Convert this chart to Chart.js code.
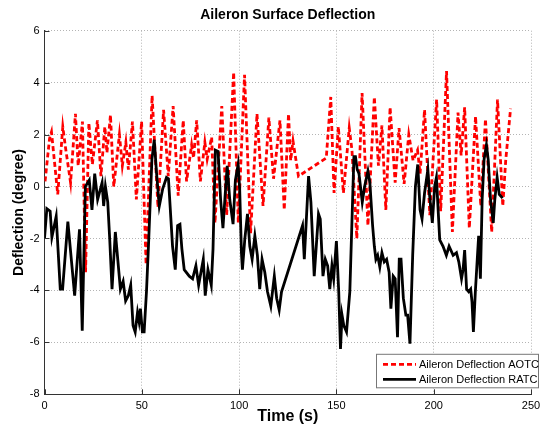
<!DOCTYPE html>
<html>
<head>
<meta charset="utf-8">
<script src="https://cdn.jsdelivr.net/npm/chart.js@4"></script>
<style>
  body { margin: 0; background: #fff; }
</style>
</head>
<body>
<canvas id="deflectionChart" width="540" height="431"></canvas>
<script>
// values (time in s, deflection in degree)
const aotcTime = [
    0.3, 2.6, 3.6, 6.8, 9.4, 10.7, 13.4, 15.9, 17.3, 19.5,
    21.1, 22.8, 24.6, 27.2, 29.0, 31.0, 32.1, 33.9, 35.6, 38.5,
    40.0, 41.8, 43.1, 45.2, 47.2, 49.9, 52.2, 55.3, 58.3, 61.2,
    63.6, 66.1, 68.7, 71.3, 73.0, 75.6, 76.6, 78.2, 80.1, 82.4,
    83.6, 85.9, 87.6, 91.1, 93.6, 97.2, 99.6, 102.8, 105.9, 109.2,
    112.3, 115.3, 117.7, 121.0, 123.2, 125.4, 126.5, 127.7, 130.5, 144.8,
    147.1, 148.8, 151.0, 153.6, 156.6, 158.0, 160.5, 163.2, 166.2, 169.5,
    171.6, 173.4, 175.4, 177.6, 180.2, 182.2, 184.8, 187.2, 189.4, 191.7,
    193.0, 195.3, 198.0, 201.5, 203.6, 206.6, 209.6, 212.5, 214.1, 215.9,
    218.3, 221.5, 224.2, 226.6, 229.8, 232.8, 235.5, 237.0, 239.5
];
const aotcDeflection = [
    0.2, 1.85, 2.1, -0.3, 2.3, 1.55, 0.15, 2.8, 0.8, 2.5,
    -3.3, 2.45, 0.85, 2.55, 0.4, 2.3, 1.3, 2.75, 0.0, 2.0,
    0.8, 1.7, 0.65, 2.5, -0.5, 2.5, -3.0, 3.5, -0.8, 2.95,
    0.4, 3.1, -0.35, 2.55, 0.2, 1.6, 1.1, 2.55, 0.2, 1.7,
    1.05, 1.9, -1.4, 3.1, -1.1, 4.4, -1.4, 4.3, -1.8, 2.8,
    -0.75, 2.65, 0.3, 2.55, -0.9, 2.8, 1.0, 1.75, 0.4, 1.1,
    3.45, -0.25, 2.3, -0.25, 2.25, 1.4, -2.0, 3.6, -1.5, 3.45,
    0.8, 2.35, -0.9, 3.05, 0.15, 2.25, 0.1, 2.0, 1.0, 1.4,
    0.5, 2.95, -1.1, 3.35, -0.95, 4.45, -1.75, 2.85, 1.2, 3.05,
    -1.6, 2.7, -0.75, 2.6, -1.75, 3.35, -0.75, 1.0, 3.0
];
const ratcTime = [
    0.0, 1.2, 2.9, 3.8, 6.0, 8.1, 9.3, 12.0, 15.5, 18.0,
    19.4, 21.0, 23.0, 24.4, 25.8, 27.3, 29.6, 30.4, 31.3, 32.5,
    33.5, 34.7, 36.4, 39.0, 40.4, 41.7, 43.1, 44.3, 45.5, 46.6,
    47.8, 48.6, 49.3, 50.3, 51.2, 52.4, 53.5, 55.2, 56.4, 57.6,
    59.0, 60.7, 62.7, 63.7, 65.8, 67.2, 68.4, 69.6, 70.6, 71.8,
    74.4, 76.1, 77.8, 79.2, 80.4, 81.6, 82.6, 84.0, 85.7, 86.6,
    87.8, 89.2, 90.5, 91.7, 92.9, 93.9, 95.2, 96.9, 98.1, 99.5,
    100.3, 101.2, 101.7, 102.9, 104.3, 105.5, 106.7, 108.1, 109.4, 110.6,
    111.8, 113.2, 114.6, 116.3, 118.1, 119.3, 120.6, 121.8, 132.6, 133.5,
    135.7, 136.9, 138.6, 140.8, 141.7, 143.1, 144.3, 145.5, 146.6, 147.7,
    148.6, 150.0, 151.2, 152.1, 152.9, 153.8, 155.2, 156.9, 159.0, 159.8,
    160.7, 161.6, 163.3, 164.5, 166.2, 167.2, 168.6, 169.5, 170.3, 171.2,
    172.3, 173.4, 174.6, 175.8, 177.1, 178.0, 179.2, 180.2, 181.4, 182.3,
    183.2, 184.4, 185.7, 186.6, 187.8, 189.2, 190.6, 191.8, 193.0, 194.0,
    195.3, 197.0, 197.9, 199.3, 200.5, 201.4, 203.1, 204.8, 206.5, 207.9,
    210.0, 211.7, 212.9, 214.3, 215.1, 215.9, 216.9, 218.0, 219.0, 219.7,
    220.4, 221.4, 222.5, 223.1, 224.0, 224.9, 225.9, 227.1, 228.0, 229.2,
    230.6, 231.4, 232.6, 233.7, 235.4
];
const ratcDeflection = [
    -2.0, -0.85, -0.95, -1.95, -1.15, -3.95, -3.95, -1.35, -4.2, -1.65,
    -5.55, 0.0, 0.25, -0.9, 0.5, -0.5, 0.15, -0.75, 0.0, -0.6,
    -2.0, -3.95, -1.75, -3.95, -3.65, -4.4, -4.2, -3.8, -5.35, -5.6,
    -4.85, -5.2, -4.7, -5.6, -5.6, -4.05, -2.15, 1.05, 1.8, 0.5,
    -0.75, -0.1, 0.35, 0.3, -2.3, -3.2, -1.5, -1.45, -2.4, -3.2,
    -3.45, -3.55, -3.05, -3.8, -3.3, -2.8, -4.2, -3.2, -3.8, -2.4,
    1.4, 1.35, -0.5, -1.6, -0.25, 0.8, -0.5, -1.45, 0.25, 0.85,
    -0.1, -2.55, -3.2, -2.05, -1.05, -2.3, -2.8, -1.9, -2.65, -3.95,
    -2.8, -3.3, -4.05, -4.6, -3.45, -4.3, -4.75, -4.05, -1.5, -2.8,
    0.4, -0.6, -3.45, -1.05, -1.25, -3.45, -2.8, -3.05, -3.95, -3.05,
    -3.55, -2.1, -4.05, -6.25, -4.95, -5.35, -5.6, -4.05, 1.15, 1.15,
    0.65, 0.5, -0.6, 0.0, 0.6, 0.15, -1.5, -2.3, -2.8, -2.65,
    -3.1, -2.55, -2.9, -2.8, -3.3, -4.7, -3.45, -3.55, -5.8, -2.8,
    -2.8, -4.3, -4.95, -4.95, -6.05, -2.65, 0.0, 0.85, -0.9, -1.25,
    -0.25, 0.65, -0.35, -1.4, 0.0, 0.35, -2.05, -2.3, -2.65, -2.3,
    -2.65, -2.55, -2.9, -3.55, -3.2, -2.45, -3.95, -4.05, -3.95, -4.45,
    -5.6, -4.05, -2.65, -1.9, -3.55, -0.5, 1.05, 1.6, 1.05, -0.5,
    -1.4, -0.5, 0.35, -0.3, -0.45
];
const xTicks = [0, 50, 100, 150, 200, 250];
const yTicks = [-8, -6, -4, -2, 0, 2, 4, 6];
const seriesNames = ['Aileron Deflection AOTC', 'Aileron Deflection RATC'];

const FONT = '"Liberation Sans", Arial, sans-serif';

function toPoints(times, values) {
    return times.map((t, i) => ({ x: t, y: values[i] }));
}

// MATLAB-like title, inward ticks and legend box
const matlabDecor = {
    id: 'matlabDecor',
    afterDraw(chart) {
        const ctx = chart.ctx;
        const area = chart.chartArea;
        const xs = chart.scales.x, ys = chart.scales.y;
        ctx.save();

        // title
        ctx.fillStyle = '#000';
        ctx.font = 'bold 14px ' + FONT;
        ctx.textAlign = 'center';
        ctx.textBaseline = 'middle';
        ctx.fillText('Aileron Surface Deflection', (area.left + area.right) / 2, 15.5);

        // inward tick marks
        ctx.strokeStyle = '#333';
        ctx.lineWidth = 1;
        ctx.beginPath();
        xTicks.forEach(v => {
            const px = Math.round(xs.getPixelForValue(v)) + 0.5;
            ctx.moveTo(px, area.bottom);
            ctx.lineTo(px, area.bottom - 5);
        });
        yTicks.forEach(v => {
            const py = Math.round(ys.getPixelForValue(v)) + 0.5;
            ctx.moveTo(area.left, py);
            ctx.lineTo(area.left + 5, py);
        });
        ctx.stroke();

        // legend
        const boxL = area.left + 331.5, boxT = area.bottom - 40.5;
        const boxR = area.right + 8, boxB = area.bottom - 6;
        ctx.fillStyle = '#fff';
        ctx.fillRect(boxL, boxT, boxR - boxL, boxB - boxT);
        ctx.strokeStyle = '#777';
        ctx.strokeRect(boxL + 0.5, boxT + 0.5, boxR - boxL - 1, boxB - boxT - 1);

        ctx.font = '11px ' + FONT;
        ctx.textAlign = 'left';
        ctx.textBaseline = 'middle';
        chart.data.datasets.forEach((ds, i) => {
            const rowY = boxT + 10.5 + i * 15;
            ctx.strokeStyle = ds.borderColor;
            ctx.lineWidth = ds.borderWidth;
            ctx.setLineDash(ds.borderDash || []);
            ctx.beginPath();
            ctx.moveTo(boxL + 7, rowY);
            ctx.lineTo(boxL + 40, rowY);
            ctx.stroke();
            ctx.setLineDash([]);
            ctx.fillStyle = '#000';
            ctx.fillText(ds.label, boxL + 43, rowY + 0.5);
        });
        ctx.restore();
    }
};

const ctx = document.getElementById('deflectionChart').getContext('2d');
const deflectionChart = new Chart(ctx, {
    type: 'line',
    data: {
        datasets: [{
            label: seriesNames[0],
            data: toPoints(aotcTime, aotcDeflection),
            borderColor: '#ff0000',
            borderWidth: 2.8,
            borderDash: [5, 3],
            pointRadius: 0,
            tension: 0,
            fill: false,
            order: 2
        }, {
            label: seriesNames[1],
            data: toPoints(ratcTime, ratcDeflection),
            borderColor: '#000000',
            borderWidth: 2.8,
            pointRadius: 0,
            tension: 0,
            fill: false,
            order: 1
        }]
    },
    options: {
        responsive: false,
        animation: false,
        devicePixelRatio: 1,
        layout: { padding: { top: 30.7, right: 9, left: 0, bottom: 0 } },
        plugins: {
            legend: { display: false },
            title: { display: false },
            tooltip: { enabled: false }
        },
        scales: {
            x: {
                type: 'linear',
                min: 0,
                max: 250,
                afterBuildTicks: s => { s.ticks = xTicks.map(v => ({ value: v })); },
                afterFit: s => { s.height = 36.7; s.paddingLeft = 0; s.paddingRight = 0; },
                grid: { color: '#b4b4b4', lineWidth: 1, drawTicks: false },
                border: { display: true, color: '#333', width: 1, dash: [1, 2] },
                ticks: { color: '#000', padding: 5, font: { family: FONT, size: 11 } },
                title: {
                    display: true,
                    text: 'Time (s)',
                    color: '#000',
                    font: { family: FONT, size: 16, weight: 'bold' },
                    padding: { top: 0, bottom: 4.5 }
                }
            },
            y: {
                type: 'linear',
                min: -8,
                max: 6,
                afterBuildTicks: s => { s.ticks = yTicks.map(v => ({ value: v })); },
                afterFit: s => { s.width = 44.5; s.paddingTop = 0; s.paddingBottom = 0; },
                grid: { color: '#b4b4b4', lineWidth: 1, drawTicks: false },
                border: { display: true, color: '#333', width: 1, dash: [1, 2] },
                ticks: { color: '#000', padding: 5, font: { family: FONT, size: 11 } },
                title: {
                    display: true,
                    text: 'Deflection (degree)',
                    color: '#000',
                    font: { family: FONT, size: 14, weight: 'bold' },
                    padding: { top: 10.6, bottom: 0 }
                }
            }
        }
    },
    plugins: [matlabDecor]
});
</script>
</body>
</html>
